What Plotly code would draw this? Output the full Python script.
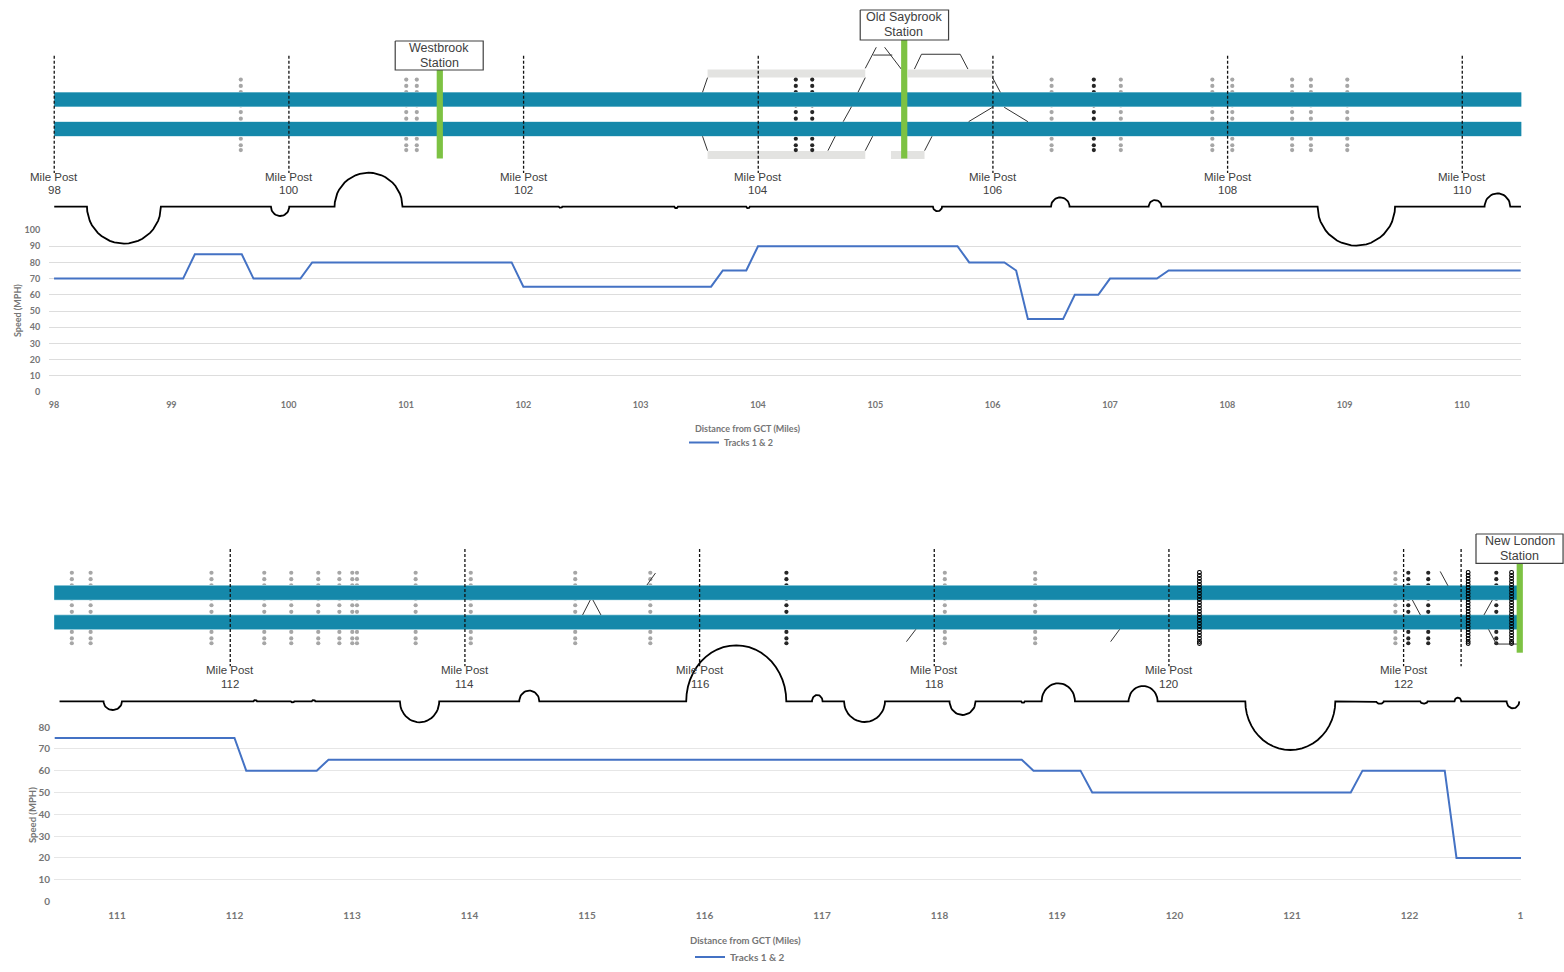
import math
import plotly.graph_objects as go

W, H = 1564, 972
FONT_UI = "Lato"
FONT_TXT = "Liberation Sans"
UI_GREY = "#757575"

# ---------- speed profiles ----------
SPEED_A_MILE = [98, 99.1, 99.2, 99.6, 99.7, 100.1, 100.2, 101.9, 102, 103.6, 103.7, 103.9, 104,
                105.7, 105.8, 106.1, 106.2, 106.3, 106.6, 106.7, 106.9, 107, 107.4, 107.5, 110.5]
SPEED_A_MPH = [70, 70, 85, 85, 70, 70, 80, 80, 65, 65, 75, 75, 90,
               90, 80, 80, 75, 45, 45, 60, 60, 70, 70, 75, 75]
SPEED_B_MILE = [110.47, 112, 112.1, 112.7, 112.8, 118.7, 118.8, 119.2, 119.3, 121.5, 121.6, 122.3, 122.4, 122.95]
SPEED_B_MPH = [75, 75, 60, 60, 65, 65, 60, 60, 50, 50, 60, 60, 20, 20]
SERIES_NAME = "Tracks 1 & 2"

TICKS_A = [98, 99, 100, 101, 102, 103, 104, 105, 106, 107, 108, 109, 110]
TICKS_B = [111, 112, 113, 114, 115, 116, 117, 118, 119, 120, 121, 122]
TICK_B_END = 122.945
YTICKS_A = [0, 10, 20, 30, 40, 50, 60, 70, 80, 90, 100]
YTICKS_B = [0, 10, 20, 30, 40, 50, 60, 70, 80]

# ---------- track schematic (mile, lateral offset from mid-way between tracks) ----------
TRACK_OFFSETS = [14.75, -14.75]
MILE_POSTS_A = [98, 100, 102, 104, 106, 108, 110]
MILE_POSTS_B = [112, 114, 116, 118, 120, 122]
EXTRA_POST_B = [122.49]

SIGNALS_GREY_A = [99.59, 101.0, 101.09, 106.50, 107.09, 107.87, 108.04, 108.55, 108.71, 109.02]
SIGNALS_DARK_A = [104.32, 104.46, 106.86]
SIGNALS_GREY_B = [110.65, 110.81, 111.84, 112.29, 112.52, 112.75, 112.93, 113.04, 113.08, 113.58,
                  114.05, 114.94, 115.58, 118.09, 118.86, 121.93]
SIGNALS_DARK_B = [116.74, 122.04, 122.21, 122.79]
CHAIN_B = [120.26, 122.55, 122.92]
SIGNAL_LEVELS = [34.7, 28.3, 22.1, 8.8, 2.2, -4.4, -24.5, -31, -35.8]
CHAIN_LEVELS = [35, 32, 29, 26, 23, 20, 17, 14, 11, 8, 5, 2, -1, -4, -7, -10, -13, -16, -19, -22, -25, -28, -31, -34, -36]

PLATFORMS_A = [(103.568, 104.912, 40.75), (105.276, 105.997, 40.75),
               (103.568, 104.912, -40.75), (105.131, 105.417, -40.75)]

SWITCHES_A = [
    [(103.568, 36.6), (103.525, 22)],
    [(103.525, -22), (103.568, -36.4)],
    [(104.912, 36.6), (104.850, 22)],
    [(104.795, 7.6), (104.724, -7.4)],
    [(104.656, -22), (104.594, -36.4)],
    [(104.975, -22), (104.912, -36.4)],
    [(104.912, 45.9), (105.006, 67)],
    [(104.980, 59.2), (105.142, 59.2)],
    [(105.077, 67), (105.219, 45.2)],
    [(105.331, 45.2), (105.391, 60), (105.721, 60), (105.787, 45.2)],
    [(105.481, -22), (105.418, -36.4)],
    [(105.997, 36.6), (106.063, 22)],
    [(105.997, 7), (105.793, -7.4)],
    [(106.096, 7), (106.298, -7.4)],
]
SWITCHES_B = [
    [(115.068, 7.4), (115.003, -7.5)],
    [(115.091, 7.4), (115.159, -7.5)],
    [(115.551, 22.4), (115.624, 34.4)],
    [(117.843, -21.9), (117.763, -34.2)],
    [(119.580, -21.9), (119.503, -34.2)],
    [(122.075, 7.4), (122.143, -7.5)],
    [(122.312, 36), (122.378, 21.7)],
    [(122.756, 7.4), (122.685, -7.5)],
    [(122.724, -21.9), (122.790, -36.6), (122.966, -36.6)],
]

STATION_NAMES = [["Westbrook", "Station"], ["Old Saybrook", "Station"], ["New London", "Station"]]
STATION_TEXT_MILE = [101.281, 105.240, 122.990]
STATION_BAR_MILE = [101.286, 105.244, 122.99]
STATION_BOX_X = [(100.906, 101.656), (104.869, 105.622), (122.617, 123.359)]
STATION_BOX_Y = [(73.25, 44.25), (104.25, 74.25), (73.45, 44.15)]
STATION_TEXT_Y = [(66.75, 51.25), (97.25, 82.25), (66.45, 51.45)]
STATION_BAR_Y = [(44.25, -44.25), (74.25, -44.25), (44.15, -45.25)]

# curvature diagram: start mile, end mile, signed height
CURVE_A_START = [98.279, 99.847, 100.389, 102.30, 103.285, 103.898, 105.489, 106.495, 107.327, 108.767, 110.190]
CURVE_A_END = [98.909, 100.003, 100.968, 102.33, 103.315, 103.928, 105.566, 106.653, 107.437, 109.427, 110.409]
CURVE_A_H = [-37, -9.3, 34, -1, -1.5, -1.5, -4.5, 9.3, 6.7, -39, 13.3]
CURVE_A_BASE, CURVE_A_FROM, CURVE_A_TO = -92.45, 98.0, 110.5

CURVE_B_START = [110.920, 112.198, 112.516, 112.695, 113.446, 114.463, 115.886, 116.958, 117.231, 118.130,
                 118.741, 118.915, 119.656, 120.651, 121.767, 122.142, 122.434, 122.878]
CURVE_B_END = [111.077, 112.228, 112.546, 112.725, 113.781, 114.634, 116.739, 117.048, 117.580, 118.352,
               118.771, 119.199, 119.903, 121.418, 121.831, 122.204, 122.491, 122.986]
CURVE_B_H = [-8.7, 1.2, -1, 1.2, -21, 10.7, 56, 6.3, -20.7, -13.7, -1.5, 18, 15.3, -48.7, -2.5, -2.3, 3.7, -7]
CURVE_B_BASE, CURVE_B_FROM, CURVE_B_TO = -93.85, 110.545, 122.986


def sx(px):
    return px / W


def sy(px):
    return 1 - px / H


def curve_path(start, end, heights, base, x_from, x_to):
    xs, ys = [x_from], [base]
    for a, b, h in zip(start, end, heights):
        c, r = (a + b) / 2, (b - a) / 2
        for i in range(25):
            t = math.pi * (1 - i / 24)
            xs.append(c + r * math.cos(t))
            ys.append(base + h * math.sin(t))
    xs.append(x_to)
    ys.append(base)
    return xs, ys


def polylines(items):
    xs, ys = [], []
    for item in items:
        for x, y in item:
            xs.append(x)
            ys.append(y)
        xs.append(None)
        ys.append(None)
    return xs, ys


def columns(miles, levels):
    xs, ys = [], []
    for m in miles:
        for lv in levels:
            xs.append(m)
            ys.append(lv)
    return xs, ys


def add_line(fig, xs, ys, xa, ya, color, width, dash=None):
    fig.add_trace(go.Scatter(x=xs, y=ys, xaxis=xa, yaxis=ya, mode="lines", showlegend=False, hoverinfo="skip",
                             line=dict(color=color, width=width, dash=dash)))


def add_schematic(fig, xa, ya, track_from, track_to, platforms, grey, dark, switches, posts, chains,
                  stations, curve):
    for x0, x1, lv in platforms:
        add_line(fig, [x0, x1], [lv, lv], xa, ya, "#E3E3E1", 8.2)
    for miles, col in ((grey, "#A6A6A6"), (dark, "#262626")):
        xs, ys = columns(miles, SIGNAL_LEVELS)
        fig.add_trace(go.Scatter(x=xs, y=ys, xaxis=xa, yaxis=ya, mode="markers", showlegend=False, hoverinfo="skip",
                                 marker=dict(color=col, size=4.2, line=dict(width=0))))
    for off in TRACK_OFFSETS:
        add_line(fig, [track_from, track_to], [off, off], xa, ya, "#A9D6E2", 15.2)
    for off in TRACK_OFFSETS:
        add_line(fig, [track_from, track_to], [off, off], xa, ya, "#1588AA", 14)
    xs, ys = polylines(switches)
    add_line(fig, xs, ys, xa, ya, "#333333", 1)
    for i in stations:
        m = STATION_BAR_MILE[i]
        add_line(fig, [m, m], list(STATION_BAR_Y[i]), xa, ya, "#7DC243", 6.2)
    xs, ys = polylines([[(m, 58.5), (m, -58.7)] for m in posts])
    add_line(fig, xs, ys, xa, ya, "#111111", 1.3, "3px,2px")
    if chains:
        xs, ys = columns(chains, CHAIN_LEVELS)
        fig.add_trace(go.Scatter(x=xs, y=ys, xaxis=xa, yaxis=ya, mode="markers", showlegend=False, hoverinfo="skip",
                                 marker=dict(symbol="circle-open", color="#000000", size=3.8,
                                             line=dict(width=1.1, color="#000000"))))
    for i in stations:
        (x0, x1), (y0, y1) = STATION_BOX_X[i], STATION_BOX_Y[i]
        fig.add_trace(go.Scatter(x=[x0, x1, x1, x0, x0], y=[y0, y0, y1, y1, y0], xaxis=xa, yaxis=ya, mode="lines",
                                 fill="toself", fillcolor="white", showlegend=False, hoverinfo="skip",
                                 line=dict(color="#404040", width=1.2)))
    xs, ys = curve_path(*curve)
    add_line(fig, xs, ys, xa, ya, "#000000", 1.8)


fig = go.Figure()

# panel A
fig.add_trace(go.Scatter(x=SPEED_A_MILE, y=SPEED_A_MPH, xaxis="x", yaxis="y", mode="lines", name=SERIES_NAME,
                         legend="legend", line=dict(color="#4472C4", width=2)))
add_schematic(fig, "x2", "y2", 98, 110.503, PLATFORMS_A, SIGNALS_GREY_A, SIGNALS_DARK_A, SWITCHES_A,
              MILE_POSTS_A, [], [0, 1],
              (CURVE_A_START, CURVE_A_END, CURVE_A_H, CURVE_A_BASE, CURVE_A_FROM, CURVE_A_TO))
# panel B
fig.add_trace(go.Scatter(x=SPEED_B_MILE, y=SPEED_B_MPH, xaxis="x3", yaxis="y3", mode="lines", name=SERIES_NAME,
                         legend="legend2", line=dict(color="#4472C4", width=2)))
add_schematic(fig, "x4", "y4", 110.5, 122.97, [], SIGNALS_GREY_B, SIGNALS_DARK_B, SWITCHES_B,
              MILE_POSTS_B + EXTRA_POST_B, CHAIN_B, [2],
              (CURVE_B_START, CURVE_B_END, CURVE_B_H, CURVE_B_BASE, CURVE_B_FROM, CURVE_B_TO))

ann = []
TXT = dict(family=FONT_TXT, color="#404040")


def label(text, x, y, xref, yref, size, font=None, **kw):
    f = dict(TXT if font is None else font)
    f["size"] = size
    ann.append(dict(text=text, x=x, y=y, xref=xref, yref=yref, showarrow=False, font=f,
                    xanchor="center", yanchor="middle", **kw))


for posts, xa, ya in ((MILE_POSTS_A, "x2", "y2"), (MILE_POSTS_B, "x4", "y4")):
    for m in posts:
        label("Mile Post", m, -62.9, xa, ya, 11.5)
        label(str(m), m, -76.2, xa, ya, 11.5)

for i, (xa, ya) in enumerate((("x2", "y2"), ("x2", "y2"), ("x4", "y4"))):
    for line_text, lv in zip(STATION_NAMES[i], STATION_TEXT_Y[i]):
        label(line_text, STATION_TEXT_MILE[i], lv, xa, ya, 12.5)

UI = dict(family=FONT_UI, color=UI_GREY, weight="bold")
label("Distance from GCT (Miles)", sx(747), sy(429), "paper", "paper", 9, UI)
label("Distance from GCT (Miles)", sx(745), sy(940), "paper", "paper", 9.5, UI)
label("Speed (MPH)", sx(17), sy(311), "paper", "paper", 9, UI, textangle=-90)
label("Speed (MPH)", sx(32), sy(815), "paper", "paper", 9.5, UI, textangle=-90)


def hidden(rng, domain):
    return dict(visible=False, range=rng, domain=domain, fixedrange=True)


def speed_x(rng, domain, vals, text, size, ticklen, anchor):
    return dict(range=rng, domain=domain, tickmode="array", tickvals=vals, ticktext=text, anchor=anchor,
                showgrid=False, zeroline=False, showline=False, ticks="outside", ticklen=ticklen,
                tickcolor="rgba(0,0,0,0)", tickangle=0, fixedrange=True,
                tickfont=dict(family=FONT_UI, size=size, color=UI_GREY, weight="bold"))


def speed_y(rng, domain, vals, size, ticklen, anchor, gridw, gridc):
    return dict(range=rng, domain=domain, tickmode="array", tickvals=vals, anchor=anchor,
                showgrid=True, gridcolor=gridc, gridwidth=gridw, zeroline=False, showline=False,
                ticks="outside", ticklen=ticklen, tickcolor="rgba(0,0,0,0)", fixedrange=True,
                tickfont=dict(family=FONT_UI, size=size, color=UI_GREY, weight="bold"))


LEG_FONT = dict(family=FONT_UI, size=9, color=UI_GREY, weight="bold")
fig.update_layout(
    width=W, height=H, margin=dict(l=0, r=0, t=0, b=0, pad=0, autoexpand=False),
    paper_bgcolor="white", plot_bgcolor="rgba(0,0,0,0)", showlegend=True,
    annotations=ann,
    legend=dict(x=sx(684), y=sy(442.5), xanchor="left", yanchor="middle", bgcolor="rgba(0,0,0,0)", font=LEG_FONT,
                itemclick=False, itemdoubleclick=False),
    legend2=dict(x=sx(690), y=sy(957), xanchor="left", yanchor="middle", bgcolor="rgba(0,0,0,0)",
                 font=dict(LEG_FONT, size=10), itemclick=False, itemdoubleclick=False),
    xaxis=speed_x([97.957, 110.503], [sx(49), sx(1521)], TICKS_A, [str(t) for t in TICKS_A], 9, 4, "y"),
    yaxis=speed_y([0, 100], [sy(392), sy(230)], YTICKS_A, 9, 6, "x", 1, "#DDDDDD"),
    xaxis2=hidden([97.5378, 110.867], [0, 1]),
    yaxis2=hidden([114.25 - 260, 114.25], [sy(260), 1]),
    xaxis3=speed_x([110.464, 122.949], [sx(54), sx(1521)], TICKS_B + [TICK_B_END],
                   [str(t) for t in TICKS_B] + ["1"], 10, 4.5, "y3"),
    yaxis3=speed_y([0, 80], [sy(901.5), sy(727)], YTICKS_B, 10, 1, "x3", 1.4, "#E6E6E6"),
    xaxis4=hidden([110.0377, 123.367], [0, 1]),
    yaxis4=hidden([607.45 - 770, 607.45 - 480], [sy(770), sy(480)]),
)

fig.write_html("out.html", config=dict(displayModeBar=False),
               post_script="document.body.style.margin='0';document.body.style.overflow='hidden';")
